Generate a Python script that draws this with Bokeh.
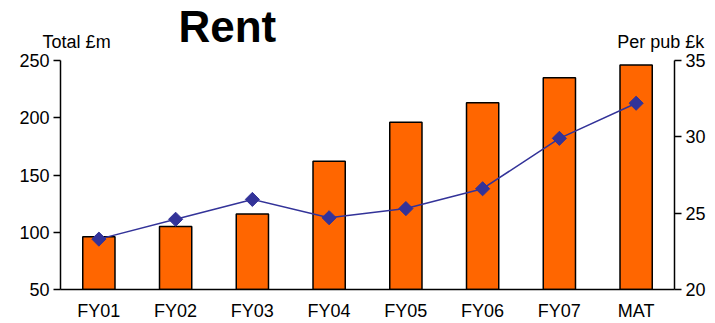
import math
from bokeh.plotting import figure
from bokeh.models import Range1d, LinearAxis, FixedTicker, Title, ColumnDataSource
from bokeh.embed import file_html
from bokeh.resources import INLINE

categories = ["FY01", "FY02", "FY03", "FY04", "FY05", "FY06", "FY07", "MAT"]
total_m = [96, 105, 116, 162, 196, 213, 235, 246]
per_pub_k = [23.3, 24.6, 25.9, 24.7, 25.3, 26.6, 29.9, 32.2]
left_ticks = [50, 100, 150, 200, 250]
right_ticks = [20, 25, 30, 35]
title_text = "Rent"
axis_titles = ["Total £m", "Per pub £k"]

xs = [i + 0.5 for i in range(len(categories))]
FONT = "Liberation Sans"
FS = "18px"

p = figure(width=715, height=323, output_backend="svg", toolbar_location=None,
           x_range=Range1d(0, len(categories)), y_range=Range1d(50, 250),
           min_border_left=60, min_border_right=41, min_border_top=60, min_border_bottom=33,
           outline_line_color=None, title_location=None)
p.extra_y_ranges = {"pub": Range1d(20, 35)}
p.grid.visible = False
p.background_fill_color = "white"
p.border_fill_color = "white"

src = ColumnDataSource(dict(x=xs, total=total_m, pub=per_pub_k))
p.vbar(x="x", top="total", bottom=50, width=0.42, source=src,
       fill_color="#FF6600", line_color="black", line_width=1.5)
p.line(x="x", y="pub", source=src, y_range_name="pub", line_color="#333399", line_width=1.5)
p.scatter(x="x", y="pub", source=src, y_range_name="pub", marker="square", size=10,
          angle=math.pi / 4, fill_color="#333399", line_color="#333399")

# bottom category axis
xa = p.xaxis[0]
xa.ticker = FixedTicker(ticks=xs)
xa.major_label_overrides = {x: c for x, c in zip(xs, categories)}
xa.major_tick_line_color = None
xa.major_tick_out = 0
xa.major_tick_in = 0
xa.minor_tick_line_color = None
xa.minor_tick_out = 0
xa.axis_line_color = "black"
xa.axis_line_width = 1.5
xa.major_label_text_font = FONT
xa.major_label_text_font_size = FS
xa.major_label_text_color = "black"
xa.major_label_standoff = 11

def style_y(ax):
    ax.minor_tick_line_color = None
    ax.major_tick_out = 7
    ax.major_tick_in = 0
    ax.axis_line_width = 1.5
    ax.major_tick_line_width = 1.5
    ax.major_label_text_font = FONT
    ax.major_label_text_font_size = FS
    ax.major_label_text_color = "black"
    ax.major_label_standoff = 4

ya = p.yaxis[0]
ya.ticker = FixedTicker(ticks=left_ticks)
style_y(ya)

ra = LinearAxis(y_range_name="pub", ticker=FixedTicker(ticks=right_ticks))
style_y(ra)
p.add_layout(ra, "right")

# axis titles as an unlined top axis
title_pos = [0.21, 7.82]
ta = LinearAxis(ticker=FixedTicker(ticks=title_pos))
ta.major_label_overrides = {x: t for x, t in zip(title_pos, axis_titles)}
ta.axis_line_color = None
ta.major_tick_line_color = None
ta.major_tick_out = 0
ta.major_tick_in = 0
ta.minor_tick_line_color = None
ta.minor_tick_out = 0
ta.major_label_text_font = FONT
ta.major_label_text_font_size = FS
ta.major_label_text_color = "black"
ta.major_label_standoff = 9
p.add_layout(ta, "above")

p.add_layout(Title(text=title_text, text_font=FONT, text_font_size="44px",
                   text_font_style="bold", text_color="black", align="left",
                   vertical_align="bottom", offset=118, standoff=-45), "above")

open("out.html", "w").write(file_html(p, INLINE))
